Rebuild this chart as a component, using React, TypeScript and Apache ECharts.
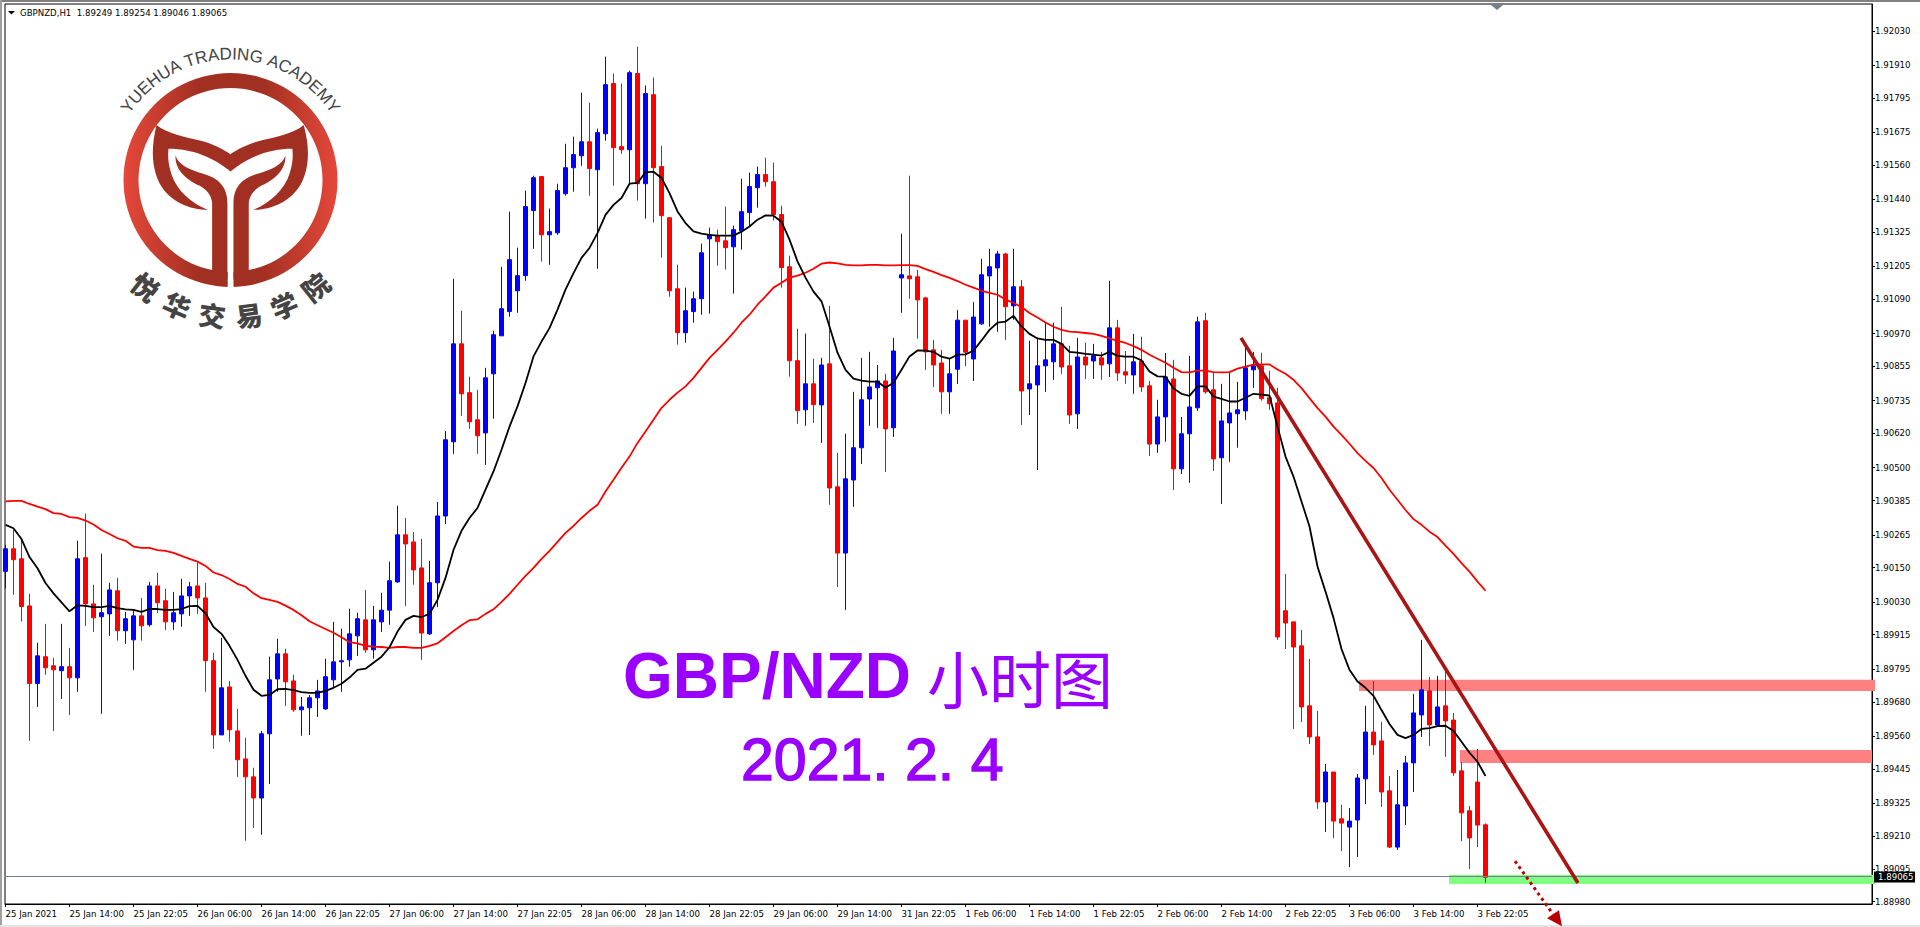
import React, { useEffect, useRef } from "react";
import * as echarts from "echarts";

// All prices are in points (1e-5), e.g. 189065 = 1.89065
const candleOpen = [
  190137,190216,190181,190016,189744,189838,189806,189789,189803,189764,
  190185,190023,189978,189988,190069,189929,189897,189981,189950,190086,
  190034,189960,189988,190051,190086,190044,189824,189564,189732,189578,
  189480,189417,189343,189568,189760,189848,189753,189652,189659,189694,
  189655,189757,189820,189827,189911,189967,189862,189960,190001,190100,
  190265,190240,190149,189918,190097,190331,190591,190934,190763,190668,
  190622,190829,190962,191047,191120,191173,191401,191520,191316,191323,
  191460,191551,191593,191642,191544,191670,191846,191625,191614,191881,
  191495,191807,191555,191376,191127,190973,191047,191092,191302,191313,
  191295,191274,191330,191394,191481,191527,191502,191387,191204,190875,
  190703,190794,190720,190864,190433,190201,190457,190570,190741,190780,
  190804,190640,191165,191172,191169,191095,190913,190867,190766,190845,
  191017,190881,191004,191172,191200,191249,191067,191134,190776,190790,
  190857,190871,190934,190857,190689,190888,190874,190885,190864,190990,
  190836,190825,190874,190787,190583,190678,190811,190496,190619,190710,
  191015,190773,190535,190657,190689,190699,190843,190857,190745,190727,
  189999,189960,189876,189666,189557,189329,189434,189270,189241,189266,
  189410,189574,189543,189368,189171,189315,189466,189634,189718,189599,
  189666,189616,189438,189298,189399,189249,
];
const candleHigh = [
  190230,190283,190248,190058,189887,189953,189834,189953,189869,190244,
  190339,190090,190199,190097,190114,189995,190002,190044,190100,190132,
  190076,190065,190111,190100,190167,190097,189852,189904,189753,189655,
  189554,189449,189578,189838,189901,189866,189775,189697,189704,189757,
  189831,189960,189936,190006,189992,190072,190016,190062,190171,190367,
  190324,190275,190251,190174,190380,190629,191162,191050,190819,190773,
  190850,190980,191204,191397,191271,191471,191523,191520,191408,191495,
  191635,191660,191814,191779,191688,191940,191881,191846,191891,191975,
  191839,191867,191628,191376,191211,191131,191117,191285,191341,191334,
  191415,191348,191513,191534,191555,191586,191569,191418,191243,190987,
  190970,190882,190885,191067,190552,190619,190766,190885,190906,190860,
  190829,190955,191320,191523,191193,191099,190948,190913,190881,191052,
  191017,191080,191232,191267,191260,191253,191267,191158,190945,190955,
  191008,191008,191064,190927,190955,190938,190934,190906,191155,191018,
  190909,190969,190959,190804,190738,190902,190878,190678,190892,191029,
  191043,190833,190794,190833,190801,190927,190906,190903,190840,190780,
  190128,189960,189932,189830,189648,189462,189434,189319,189308,189427,
  189666,189753,189609,189420,189441,189490,189708,189897,189767,189771,
  189792,189641,189469,189315,189515,189254,
];
const candleLow = [
  190077,190055,189961,189543,189662,189775,189578,189690,189634,189715,
  189946,189925,189638,189911,189894,189883,189792,189894,189943,189992,
  189932,189932,189943,189981,189988,189715,189515,189564,189540,189417,
  189193,189238,189214,189392,189715,189666,189645,189561,189564,189627,
  189652,189729,189715,189803,189841,189852,189831,189925,189950,190097,
  190016,190090,189827,189914,190012,190303,190549,190682,190636,190549,
  190510,190672,190962,191029,191043,191155,191267,191222,191211,191316,
  191453,191467,191558,191453,191197,191646,191488,191600,191495,191436,
  191373,191359,191236,191099,190931,190938,191008,191036,191040,191208,
  191194,191110,191264,191345,191411,191485,191366,191131,190819,190654,
  190647,190657,190587,190370,190082,190002,190363,190513,190647,190640,
  190485,190608,191043,191092,190952,190843,190783,190689,190689,190794,
  190856,190804,191001,190994,190976,190948,191018,190650,190685,190492,
  190766,190808,190829,190654,190636,190811,190811,190808,190818,190804,
  190794,190759,190766,190541,190552,190591,190422,190478,190447,190699,
  190759,190489,190373,190521,190570,190668,190780,190735,190703,189897,
  189865,189585,189609,189532,189305,189224,189203,189157,189101,189136,
  189322,189494,189312,189168,189161,189248,189364,189557,189525,189595,
  189487,189420,189192,189094,189171,189046,
];
const candleClose = [
  190216,190178,190014,189744,189841,189799,189792,189803,189764,190181,
  190023,189974,189992,190072,189929,189971,189981,189946,190086,190027,
  189960,189992,190051,190083,190044,189824,189564,189729,189582,189477,
  189417,189343,189568,189757,189848,189750,189652,189662,189694,189718,
  189768,189820,189824,189918,189971,189862,189967,190001,190104,190265,
  190233,190142,189921,190097,190331,190598,190934,190759,190661,190612,
  190815,190966,191057,191229,191173,191415,191516,191316,191327,191471,
  191551,191597,191642,191548,191674,191842,191621,191614,191884,191495,
  191811,191551,191383,191120,190973,191050,191092,191253,191316,191292,
  191271,191334,191397,191485,191527,191502,191387,191201,190875,190700,
  190794,190721,190860,190429,190201,190461,190570,190738,190783,190804,
  190636,190909,191176,191162,191088,190906,190860,190766,190829,191017,
  190905,191028,191176,191204,191249,191064,191134,190769,190794,190857,
  190878,190934,190853,190685,190888,190860,190892,190860,190990,190832,
  190825,190871,190783,190583,190678,190818,190496,190619,190713,191011,
  190766,190531,190664,190692,190703,190850,190857,190742,190724,189907,
  189956,189872,189662,189557,189329,189434,189262,189255,189262,189413,
  189574,189529,189364,189171,189319,189466,189641,189722,189599,189662,
  189613,189431,189291,189203,189248,189065,
];
const fastMA = [
  190300,190288,190250,190187,190148,190096,190060,190028,189997,190018,
  190016,190012,190012,190016,190008,190004,190002,189995,190005,190005,
  190002,190002,190005,190015,190016,189990,189942,189918,189876,189827,
  189771,189722,189701,189704,189724,189725,189721,189714,189711,189711,
  189718,189729,189743,189765,189792,189796,189817,189838,189871,189926,
  189967,189981,189977,189988,190037,190114,190212,190279,190324,190359,
  190423,190487,190563,190644,190715,190797,190890,190942,190989,191054,
  191124,191182,191235,191270,191322,191386,191421,191445,191495,191498,
  191535,191537,191515,191462,191398,191357,191328,191320,191316,191313,
  191313,191313,191327,191345,191369,191384,191383,191362,191299,191223,
  191166,191117,191083,190995,190903,190843,190812,190805,190802,190802,
  190780,190798,190843,190890,190911,190910,190906,190889,190882,190896,
  190897,190910,190946,190983,191008,191012,191032,190995,190969,190953,
  190948,190948,190934,190906,190903,190899,190896,190893,190906,190892,
  190889,190889,190876,190837,190820,190819,190778,190759,190752,190785,
  190785,190749,190741,190732,190732,190745,190759,190756,190753,190644,
  190539,190469,190382,190294,190154,190066,189974,189865,189792,189751,
  189729,189701,189651,189602,189564,189553,189564,189585,189588,189595,
  189596,189578,189540,189502,189470,189420,
];
const slowMA = [
  190382,190384,190384,190373,190364,190355,190341,190338,190327,190324,
  190315,190301,190282,190268,190253,190244,190224,190219,190219,190211,
  190209,190202,190191,190181,190171,190156,190133,190124,190110,190093,
  190083,190060,190043,190037,190030,190017,190002,189983,189962,189948,
  189935,189922,189906,189889,189885,189876,189873,189872,189869,189872,
  189872,189869,189869,189876,189885,189906,189928,189948,189966,189969,
  189988,190004,190030,190058,190090,190121,190149,190181,190209,190240,
  190272,190296,190324,190349,190370,190417,190458,190500,190539,190587,
  190627,190668,190710,190738,190763,190785,190815,190850,190885,190913,
  190942,190973,191008,191036,191071,191100,191131,191148,191166,191173,
  191183,191197,191215,191219,191216,191211,191209,191209,191211,191211,
  191209,191209,191210,191210,191207,191196,191186,191175,191165,191154,
  191141,191131,191120,191113,191106,191089,191077,191063,191042,191026,
  191009,190994,190983,190977,190975,190972,190969,190962,190953,190944,
  190937,190926,190913,190896,190882,190868,190850,190835,190834,190840,
  190840,190835,190834,190835,190847,190854,190861,190862,190862,190844,
  190829,190808,190779,190744,190709,190679,190644,190615,190584,190551,
  190524,190499,190464,190423,190388,190352,190320,190300,190276,190257,
  190227,190198,190166,190136,190101,190069,
];
const yTicks = [
  192030,191910,191795,191675,191560,191440,191325,191205,191090,190970,190855,190735,190620,
  190500,190385,190265,190150,190030,189915,189795,189680,189560,189445,189325,189210,189095,188980,
];
const timeLabels = [
  "25 Jan 2021","25 Jan 14:00","25 Jan 22:05","26 Jan 06:00","26 Jan 14:00","26 Jan 22:05",
  "27 Jan 06:00","27 Jan 14:00","27 Jan 22:05","28 Jan 06:00","28 Jan 14:00","28 Jan 22:05",
  "29 Jan 06:00","29 Jan 14:00","31 Jan 22:05","1 Feb 06:00","1 Feb 14:00","1 Feb 22:05",
  "2 Feb 06:00","2 Feb 14:00","2 Feb 22:05","3 Feb 06:00","3 Feb 14:00","3 Feb 22:05",
];
// hand-drawn zones: start bar, end bar, low, high
const resistFrom = [169.19, 181.81];
const resistTo = [233.69, 233.31];
const resistLow = [189718, 189466];
const resistHigh = [189757, 189511];
const supportRow = [180.44, 233.69, 189042, 189073];
const trendBars = [154.44, 196.56];
const trendPrices = [190955, 189045];
const arrowBars = [188.69, 193.44];
const arrowPrices = [189122, 188936];
const arrowHeadBars = [192.69, 194.19, 194.56];
const arrowHeadPrices = [188922, 188950, 188894];
const lastPrice = 189065;
const header = "GBPNZD,H1  1.89249 1.89254 1.89046 1.89065";

const P = (v: number) => v / 100000;
const labelFont = '"DejaVu Sans"';
const labelSize = 8.6;
const BAR_STEP = 8;
const X_MIN = -0.0625;
const X_MAX = 233.3125;

const LOGO_CX = 230.5;
const LOGO_CY = 180;

function logoElements(): any[] {
  const els: any[] = [];
  const edge = "#E5483A";
  const mid = "#A23022";
  els.push({
    type: "ring",
    shape: { cx: LOGO_CX, cy: LOGO_CY, r: 107, r0: 92 },
    style: {
      fill: {
        type: "linear", x: 0, y: 0, x2: 1, y2: 0,
        colorStops: [
          { offset: 0, color: edge },
          { offset: 0.35, color: mid },
          { offset: 0.65, color: mid },
          { offset: 1, color: edge },
        ],
      },
    },
  });
  els.push({ type: "rect", shape: { x: 227.7, y: 265, width: 5.8, height: 25 }, style: { fill: "#fff" } });
  for (const name of ["logoTail", "logoLeft", "logoRight"]) {
    els.push({ type: name, x: 0, y: 0, scaleX: 1 / 3, scaleY: 1 / 3, style: { fill: mid } });
  }
  const top = "YUEHUA TRADING ACADEMY";
  const font = '17px "Liberation Sans"';
  const ctx = document.createElement("canvas").getContext("2d")!;
  ctx.font = font;
  const total = ctx.measureText(top).width;
  const radius = 126;
  const spanDeg = 114;
  let run = 0;
  for (const ch of top) {
    const w = ctx.measureText(ch).width;
    const a = (((run + w / 2) / total - 0.5) * spanDeg * Math.PI) / 180;
    run += w;
    if (ch === " ") continue;
    els.push({
      type: "text",
      x: LOGO_CX + radius * Math.sin(a),
      y: LOGO_CY - radius * Math.cos(a),
      rotation: -a,
      style: { text: ch, x: 0, y: 0, font, fill: "#444", align: "center", verticalAlign: "middle", textAlign: "center", textVerticalAlign: "middle" },
    });
  }
  const cn = "悦华交易学院";
  Array.from(cn).forEach((ch, i) => {
    const a = ((-38.5 + i * 15.4) * Math.PI) / 180;
    els.push({
      type: "text",
      x: LOGO_CX + 136 * Math.sin(a),
      y: LOGO_CY + 136 * Math.cos(a),
      rotation: a,
      style: { text: ch, x: 0, y: 0, font: '900 27px "Noto Sans CJK SC"', fill: "#444", align: "center", verticalAlign: "middle", textAlign: "center", textVerticalAlign: "middle" },
    });
  });
  return els;
}

function txt(text: string, x: number, y: number, font: string, fill: string, stroke?: number) {
  return {
    type: "text",
    style: {
      text, x, y, font, fill,
      align: "left", verticalAlign: "middle", textAlign: "left", textVerticalAlign: "middle",
      ...(stroke ? { stroke: fill, lineWidth: stroke } : {}),
    },
  };
}

echarts.graphic.registerShape(
  "logoTail",
  echarts.graphic.extendPath(
    "M470,375 C500,400 560,412 600,422 C640,432 670,448 692,463 C714,448 744,432 784,422 C824,412 884,400 912,375 C930,440 930,500 905,550 C875,605 815,630 760,630 C810,610 855,570 870,520 C880,490 880,465 878,447 C840,447 800,455 765,470 C735,483 710,500 692,515 C674,500 649,483 619,470 C584,455 544,447 506,447 C504,465 504,490 514,520 C529,570 574,610 625,630 C570,630 509,605 479,550 C454,500 454,440 470,375 Z",
    {}
  ) as any
);
echarts.graphic.registerShape(
  "logoLeft",
  echarts.graphic.extendPath(
    "M527,467 C535,495 570,510 610,522 C660,535 683,565 683,610 L683,832 C683,850 672,858 655,856 L630,848 L637,810 L637,610 C635,585 620,570 600,558 C560,540 525,510 527,467 Z",
    {}
  ) as any
);
echarts.graphic.registerShape(
  "logoRight",
  echarts.graphic.extendPath(
    "M857,467 C849,495 814,510 774,522 C724,535 701,565 701,610 L701,832 C701,850 712,858 729,856 L754,848 L747,810 L747,610 C749,585 764,570 784,558 C824,540 859,510 857,467 Z",
    {}
  ) as any
);

export default function App() {
  const ref = useRef<HTMLDivElement>(null);
  useEffect(() => {
    const chart = echarts.init(ref.current!, undefined, { renderer: "svg" });
    const candles = candleOpen.map((o, i) => [i, P(o), P(candleClose[i]), P(candleLow[i]), P(candleHigh[i])]);
    const option: any = {
      animation: false,
      backgroundColor: "#fff",
      grid: { left: 5, top: 4, width: 1867, height: 900, show: true, borderColor: "#000", borderWidth: 1, backgroundColor: "transparent" },
      xAxis: {
        type: "value",
        min: X_MIN,
        max: X_MAX,
        position: "bottom",
        splitLine: { show: false },
        axisLine: { show: true, onZero: false, lineStyle: { color: "#000", width: 1 } },
        axisTick: { show: true, length: 3, lineStyle: { color: "#000" }, customValues: timeLabels.map((_, i) => i * BAR_STEP) },
        axisLabel: {
          show: true,
          customValues: timeLabels.map((_, i) => i * BAR_STEP),
          formatter: (v: number) => timeLabels[Math.round(v / BAR_STEP)],
          align: "left",
          margin: 5,
          color: "#000",
          fontFamily: labelFont,
          fontSize: labelSize,
          hideOverlap: false,
        },
      },
      yAxis: {
        type: "value",
        position: "right",
        min: 1.889716,
        max: 1.921246,
        splitLine: { show: false },
        axisLine: { show: true, onZero: false, lineStyle: { color: "#000", width: 1 } },
        axisTick: { show: true, length: 3, lineStyle: { color: "#000" }, customValues: yTicks.map(P) },
        axisLabel: {
          show: true,
          customValues: yTicks.map(P),
          formatter: (v: number) => v.toFixed(5),
          margin: 3,
          color: "#000",
          fontFamily: labelFont,
          fontSize: labelSize,
        },
      },
      series: [
        {
          type: "custom",
          z: 1,
          silent: true,
          clip: false,
          coordinateSystem: "cartesian2d",
          encode: { x: [0, 1], y: [2, 3] },
          data: [
            [resistFrom[0], resistTo[0], P(resistLow[0]), P(resistHigh[0])],
            [resistFrom[1], resistTo[1], P(resistLow[1]), P(resistHigh[1])],
            supportRow.map((v, i) => (i < 2 ? v : P(v))),
          ],
          renderItem: (params: any, api: any) => {
            const a = api.coord([api.value(0), api.value(3)]);
            const b = api.coord([api.value(1), api.value(2)]);
            return {
              type: "rect",
              shape: { x: a[0], y: a[1], width: b[0] - a[0], height: b[1] - a[1] },
              style: { fill: params.dataIndex === 2 ? "#80FF80" : "#FF8080" },
            };
          },
        },
        {
          type: "candlestick",
          z: 2,
          barWidth: 4,
          encode: { x: 0, y: [1, 2, 3, 4] },
          data: candles,
          itemStyle: { color: "#0000FF", color0: "#FF0000", borderColor: "#0000FF", borderColor0: "#FF0000", borderWidth: 1 },
        },
        {
          type: "line", z: 3, showSymbol: false, silent: true,
          data: slowMA.map((v, i) => [i, P(v)]),
          lineStyle: { color: "#FF0000", width: 1.8 },
        },
        {
          type: "line", z: 3, showSymbol: false, silent: true,
          data: fastMA.map((v, i) => [i, P(v)]),
          lineStyle: { color: "#000000", width: 1.8 },
        },
        {
          type: "custom",
          z: 6,
          silent: true,
          clip: false,
          coordinateSystem: "cartesian2d",
          encode: { x: 0, y: 1 },
          data: [[trendBars[0], P(trendPrices[0])]],
          renderItem: (_: any, api: any) => {
            const c = (b: number, p: number) => api.coord([b, P(p)]);
            const t0 = c(trendBars[0], trendPrices[0]);
            const t1 = c(trendBars[1], trendPrices[1]);
            const a0 = c(arrowBars[0], arrowPrices[0]);
            const a1 = c(arrowBars[1], arrowPrices[1]);
            const head = arrowHeadBars.map((b, i) => c(b, arrowHeadPrices[i]));
            const ly = Math.floor(c(0, lastPrice)[1]) - 0.5;
            const lx0 = c(X_MIN, lastPrice)[0];
            const lx1 = c(X_MAX, lastPrice)[0];
            return {
              type: "group",
              children: [
                { type: "line", shape: { x1: lx0, y1: ly, x2: lx1, y2: ly }, style: { stroke: "#708090", lineWidth: 1 } },
                { type: "line", shape: { x1: t0[0], y1: t0[1], x2: t1[0], y2: t1[1] }, style: { stroke: "#AA1414", lineWidth: 3.6 } },
                { type: "line", shape: { x1: a0[0], y1: a0[1], x2: a1[0], y2: a1[1] }, style: { stroke: "#C00000", lineWidth: 3, lineDash: [3, 3.5] } },
                { type: "polygon", shape: { points: head }, style: { fill: "#B80000" } },
                { type: "rect", shape: { x: 1874, y: ly - 5, width: 41, height: 11 }, style: { fill: "#000" } },
                { type: "text", style: { text: (lastPrice / 100000).toFixed(5), x: 1878, y: ly + 0.5, fill: "#fff", font: `${labelSize}px ${labelFont}`, align: "left", verticalAlign: "middle", textAlign: "left", textVerticalAlign: "middle" } },
              ],
            };
          },
        },
      ],
      graphic: [
        { type: "rect", shape: { x: 0, y: 0, width: 1920, height: 2 }, style: { fill: "#808080" } },
        { type: "rect", shape: { x: 0, y: 0, width: 2, height: 927 }, style: { fill: "#A0A0A0" } },
        { type: "rect", shape: { x: 0, y: 925, width: 1920, height: 2 }, style: { fill: "#E4E4E4" } },
        { type: "polygon", shape: { points: [[8, 11], [15, 11], [11.5, 14.5]] }, style: { fill: "#000" } },
        { type: "polygon", shape: { points: [[1491, 5], [1503, 5], [1497, 10]] }, style: { fill: "#708090" } },
        txt(header, 20, 12.5, `${labelSize}px ${labelFont}`, "#000"),
        ...logoElements(),
        txt("GBP/NZD", 623, 676, 'bold 64px "Liberation Sans"', "#9900FF"),
        txt("小时图", 927, 677, '62px "Noto Sans CJK SC"', "#9900FF"),
        txt("2021. 2. 4", 741, 760, '59px "Liberation Sans"', "#9900FF", 1.4),
      ],
    };
    chart.setOption(option);
    return () => chart.dispose();
  }, []);
  return <div ref={ref} style={{ position: "fixed", left: 0, top: 0, width: 1920, height: 927 }} />;
}
